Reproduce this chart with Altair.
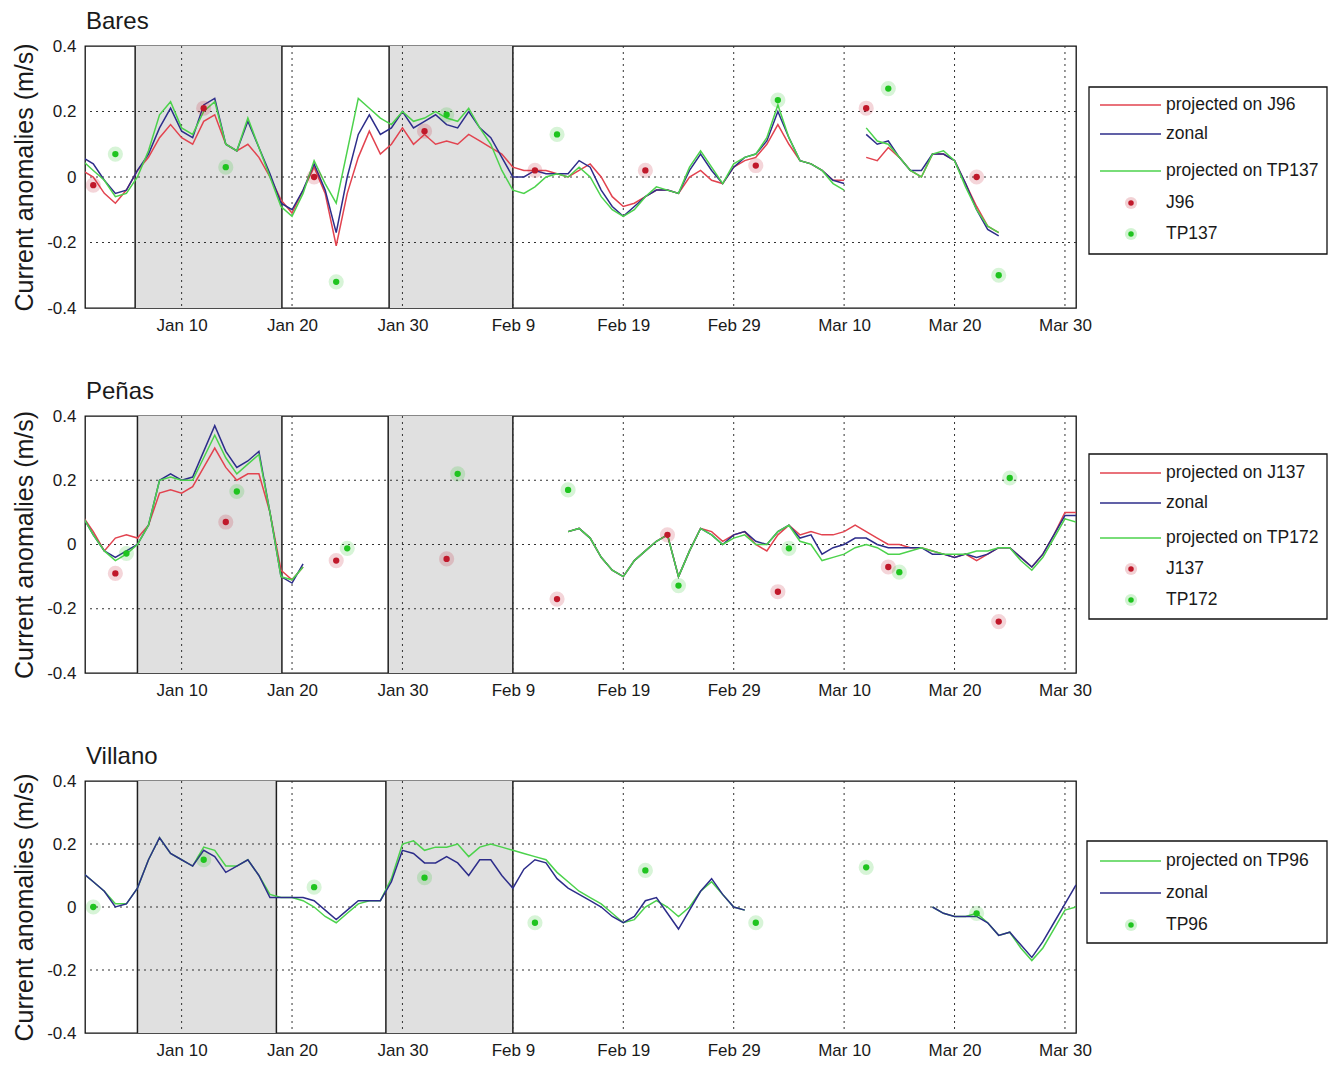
import altair as alt
import pandas as pd

FONT = "Liberation Sans"
TEXT = "#1a1a1a"
RED_LINE = "#e2434f"
BLUE_LINE = "#2d2d8a"
GREEN_LINE = "#4cd24c"
RED_PT = "#c0182a"
GREEN_PT = "#1fc41f"
GREY = "#e0e0e0"

# ---------------- axis ticks ----------------
X_TICKS = ["2008-01-10", "2008-01-20", "2008-01-30", "2008-02-09", "2008-02-19",
           "2008-02-29", "2008-03-10", "2008-03-20", "2008-03-30"]
Y_TICKS = [-0.4, -0.2, 0, 0.2, 0.4]
Y_GRID = [-0.2, 0, 0.2]

# ---------------- Bares ----------------
BARES_SHADE = ["2008-01-05T19:00", "2008-01-19T02:00", "2008-01-28T19:00", "2008-02-09T00:00"]
BARES_SEG1_START = "2008-01-01"
BARES_RED_1 = [0.02, 0.00, -0.05, -0.08, -0.04, 0.02, 0.06, 0.12, 0.16, 0.12, 0.10, 0.17, 0.19, 0.10, 0.08, 0.10,
               0.06, 0.00, -0.07, -0.11, -0.04, 0.03, -0.05, -0.21, -0.05, 0.06, 0.14, 0.07, 0.10, 0.15, 0.10,
               0.13, 0.10, 0.11, 0.10, 0.13, 0.11, 0.09, 0.07, 0.03, 0.02, 0.02, 0.02, 0.01, 0.00, 0.02, 0.04,
               0.00, -0.06, -0.09, -0.08, -0.06, -0.04, -0.04, -0.05, 0.00, 0.02, -0.01, -0.02, 0.03,
               0.05, 0.06, 0.10, 0.16, 0.10, 0.05, 0.04, 0.02, -0.01, -0.01]
BARES_BLUE_1 = [0.06, 0.04, -0.01, -0.05, -0.04, 0.02, 0.07, 0.15, 0.21, 0.14, 0.12, 0.22, 0.24, 0.10, 0.08, 0.17,
                0.09, 0.01, -0.08, -0.10, -0.04, 0.04, -0.04, -0.17, 0.00, 0.13, 0.19, 0.13, 0.15, 0.20, 0.15,
                0.17, 0.19, 0.16, 0.15, 0.20, 0.15, 0.12, 0.06, 0.00, 0.00, 0.02, 0.01, 0.01, 0.01, 0.05, 0.03,
                -0.04, -0.09, -0.12, -0.09, -0.06, -0.04, -0.04, -0.05, 0.02, 0.07, 0.02, -0.02, 0.03,
                0.06, 0.07, 0.11, 0.20, 0.12, 0.05, 0.04, 0.02, -0.01, -0.02]
BARES_GREEN_1 = [0.05, 0.02, -0.01, -0.06, -0.05, 0.00, 0.08, 0.19, 0.23, 0.15, 0.13, 0.20, 0.23, 0.10, 0.08, 0.18,
                 0.09, 0.00, -0.09, -0.12, -0.05, 0.05, -0.02, -0.08, 0.08, 0.24, 0.21, 0.18, 0.16, 0.20, 0.17,
                 0.18, 0.20, 0.18, 0.17, 0.21, 0.15, 0.10, 0.02, -0.04, -0.05, -0.03, 0.00, 0.01, 0.00, 0.03, 0.00,
                 -0.06, -0.10, -0.12, -0.10, -0.06, -0.03, -0.04, -0.05, 0.03, 0.08, 0.03, -0.02, 0.04,
                 0.06, 0.07, 0.12, 0.22, 0.12, 0.05, 0.04, 0.02, -0.02, -0.04]
BARES_SEG2_START = "2008-03-12"
BARES_RED_2 = [0.06, 0.05, 0.09, 0.06, 0.02, 0.00, 0.07, 0.07, 0.05, -0.02, -0.09, -0.15, -0.17]
BARES_BLUE_2 = [0.13, 0.10, 0.11, 0.06, 0.02, 0.02, 0.07, 0.07, 0.05, -0.02, -0.10, -0.16, -0.18]
BARES_GREEN_2 = [0.15, 0.11, 0.10, 0.06, 0.02, 0.00, 0.07, 0.08, 0.05, -0.03, -0.10, -0.15, -0.17]
BARES_J96_DATES = ["2008-01-02", "2008-01-12", "2008-01-22", "2008-02-01", "2008-02-11",
                   "2008-02-21", "2008-03-02", "2008-03-12", "2008-03-22"]
BARES_J96 = [-0.025, 0.21, 0.0, 0.14, 0.02, 0.02, 0.035, 0.21, 0.0]
BARES_TP137_DATES = ["2008-01-04", "2008-01-14", "2008-01-24", "2008-02-03", "2008-02-13",
                     "2008-03-04", "2008-03-14", "2008-03-24"]
BARES_TP137 = [0.07, 0.03, -0.32, 0.19, 0.13, 0.235, 0.27, -0.30]
BARES_LEGEND = ["projected on J96", "zonal", "projected on TP137", "J96", "TP137"]

# ---------------- Peñas ----------------
PENAS_SHADE = ["2008-01-06T00:00", "2008-01-19T02:00", "2008-01-28T17:00", "2008-02-09T00:00"]
PENAS_SEG1_START = "2008-01-01"
PENAS_RED_1 = [0.09, 0.04, -0.02, 0.02, 0.03, 0.02, 0.06, 0.16, 0.17, 0.16, 0.18, 0.24, 0.30, 0.24, 0.20, 0.22,
               0.22, 0.10, -0.08, -0.11, -0.07]
PENAS_BLUE_1 = [0.09, 0.03, -0.02, -0.04, -0.02, 0.00, 0.06, 0.20, 0.22, 0.20, 0.21, 0.29, 0.37, 0.29, 0.24, 0.26,
                0.29, 0.10, -0.10, -0.12, -0.06]
PENAS_GREEN_1 = [0.09, 0.03, -0.02, -0.05, -0.03, 0.00, 0.06, 0.20, 0.21, 0.20, 0.20, 0.27, 0.34, 0.27, 0.22, 0.25,
                 0.28, 0.10, -0.10, -0.11, -0.07]
PENAS_SEG2_START = "2008-02-14"
PENAS_RED_2 = [0.04, 0.05, 0.02, -0.04, -0.08, -0.10, -0.05, -0.02, 0.01, 0.03, -0.10, -0.02, 0.05, 0.04, 0.01, 0.03,
               0.04, 0.00, -0.02, 0.03, 0.06, 0.03, 0.04, 0.03, 0.03, 0.04, 0.06, 0.04, 0.02, 0.00, 0.00, -0.01,
               -0.01, -0.02, -0.03, -0.04, -0.03, -0.05, -0.03, -0.01, -0.01, -0.04, -0.07, -0.03, 0.03, 0.10, 0.10]
PENAS_BLUE_2 = [0.04, 0.05, 0.02, -0.04, -0.08, -0.10, -0.05, -0.02, 0.01, 0.03, -0.10, -0.02, 0.05, 0.03, 0.00, 0.03,
                0.04, 0.01, 0.00, 0.04, 0.06, 0.02, 0.03, -0.03, -0.01, 0.00, 0.02, 0.02, 0.00, -0.01, -0.01, -0.01,
                -0.01, -0.03, -0.03, -0.04, -0.03, -0.04, -0.03, -0.01, -0.01, -0.04, -0.07, -0.03, 0.03, 0.09, 0.09]
PENAS_GREEN_2 = [0.04, 0.05, 0.02, -0.04, -0.08, -0.10, -0.05, -0.02, 0.01, 0.03, -0.10, -0.02, 0.05, 0.03, 0.00, 0.02,
                 0.03, 0.00, 0.00, 0.04, 0.06, 0.01, 0.00, -0.05, -0.04, -0.03, -0.01, 0.00, -0.01, -0.03, -0.03, -0.02,
                 -0.01, -0.02, -0.03, -0.03, -0.03, -0.02, -0.02, -0.01, -0.01, -0.05, -0.08, -0.04, 0.02, 0.08, 0.07]
PENAS_J137_DATES = ["2008-01-04", "2008-01-14", "2008-01-24", "2008-02-03", "2008-02-13",
                    "2008-02-23", "2008-03-04", "2008-03-14", "2008-03-24"]
PENAS_J137 = [-0.09, 0.07, -0.05, -0.045, -0.17, 0.03, -0.147, -0.07, -0.24]
PENAS_TP172_DATES = ["2008-01-05", "2008-01-15", "2008-01-25", "2008-02-04", "2008-02-14",
                     "2008-02-24", "2008-03-05", "2008-03-15", "2008-03-25"]
PENAS_TP172 = [-0.028, 0.165, -0.012, 0.22, 0.17, -0.128, -0.012, -0.086, 0.207]
PENAS_LEGEND = ["projected on J137", "zonal", "projected on TP172", "J137", "TP172"]

# ---------------- Villano ----------------
VILLANO_SHADE = ["2008-01-06T00:00", "2008-01-18T14:00", "2008-01-28T12:00", "2008-02-09T00:00"]
VILLANO_SEG1_START = "2008-01-01"
VILLANO_BLUE_1 = [0.11, 0.08, 0.05, 0.00, 0.01, 0.06, 0.15, 0.22, 0.17, 0.15, 0.13, 0.18, 0.16, 0.11, 0.13, 0.15,
                  0.10, 0.03, 0.03, 0.03, 0.03, 0.02, -0.01, -0.04, -0.01, 0.02, 0.02, 0.02, 0.08, 0.18, 0.17,
                  0.14, 0.14, 0.16, 0.14, 0.10, 0.15, 0.15, 0.10, 0.06, 0.12, 0.15, 0.14, 0.09, 0.06, 0.04, 0.02,
                  0.00, -0.03, -0.05, -0.03, 0.02, 0.03, -0.02, -0.07, -0.01, 0.05, 0.09, 0.04, 0.00,
                  -0.01]
VILLANO_GREEN_1 = [0.11, 0.08, 0.05, 0.01, 0.01, 0.06, 0.15, 0.22, 0.17, 0.15, 0.13, 0.19, 0.18, 0.13, 0.13, 0.15,
                   0.10, 0.04, 0.03, 0.03, 0.02, 0.00, -0.03, -0.05, -0.02, 0.01, 0.02, 0.02, 0.09, 0.20, 0.21,
                   0.18, 0.19, 0.19, 0.20, 0.16, 0.19, 0.20, 0.19, 0.18, 0.17, 0.16, 0.15, 0.11, 0.08, 0.05, 0.03,
                   0.01, -0.02, -0.05, -0.04, 0.00, 0.02, 0.00, -0.03, 0.00, 0.05, 0.08, 0.04, 0.00,
                   -0.01]
VILLANO_SEG2_START = "2008-03-18"
VILLANO_BLUE_2 = [0.00, -0.02, -0.03, -0.03, -0.03, -0.05, -0.09, -0.08, -0.12, -0.16, -0.11, -0.05, 0.01, 0.07]
VILLANO_GREEN_2 = [0.00, -0.02, -0.03, -0.03, -0.02, -0.05, -0.09, -0.08, -0.13, -0.17, -0.13, -0.07, -0.01, 0.00]
VILLANO_TP96_DATES = ["2008-01-02", "2008-01-12", "2008-01-22", "2008-02-01", "2008-02-11",
                      "2008-02-21", "2008-03-02", "2008-03-12", "2008-03-22"]
VILLANO_TP96 = [0.0, 0.15, 0.063, 0.093, -0.05, 0.116, -0.05, 0.126, -0.02]
VILLANO_LEGEND = ["projected on TP96", "zonal", "TP96"]


# ---------------- helpers ----------------
def iso(d):
    if "T" not in d:
        d = d + "T00:00"
    return d + ":00Z"


def dt(s):
    y, m, d = [int(p) for p in s.split("-")]
    return alt.DateTime(year=y, month=m, date=d, utc=True)


def line_frame(segments):
    rows = []
    for k, (start, vals) in enumerate(segments):
        for d, v in zip(pd.date_range(start, periods=len(vals), freq="D"), vals):
            rows.append({"date": d.strftime("%Y-%m-%dT%H:%M:%SZ"), "value": v, "seg": k})
    return pd.DataFrame(rows)


def point_frame(dates, vals):
    return pd.DataFrame({"date": [iso(d) for d in dates], "value": vals})


X_SCALE = alt.Scale(type="utc", domain=[alt.DateTime(year=2008, month=1, date=1, hours=6, utc=True),
                                        alt.DateTime(year=2008, month=3, date=31, utc=True)])
X_AXIS = alt.Axis(values=[dt(s) for s in X_TICKS], labelExpr="utcFormat(datum.value, '%b %-d')",
                  grid=False, ticks=False, domain=False, labelFlush=False, labelOverlap=False,
                  labelFontSize=17, labelFont=FONT, labelColor=TEXT, labelPadding=9, title=None)
Y_SCALE = alt.Scale(domain=[-0.4, 0.4], nice=False, zero=False)
Y_AXIS = alt.Axis(values=Y_TICKS, labelExpr="datum.value == 0 ? '0' : toString(datum.value)",
                  grid=False, ticks=False, domain=False, labelFontSize=17, labelFont=FONT, labelColor=TEXT,
                  labelPadding=9, title="Current anomalies (m/s)", titleFontSize=25, titleFont=FONT,
                  titleFontWeight="normal", titleColor=TEXT, titlePadding=9)


def xenc(field):
    return alt.X(field, type="temporal", scale=X_SCALE, axis=X_AXIS)


def yenc(field):
    return alt.Y(field, type="quantitative", scale=Y_SCALE, axis=Y_AXIS)


ONE = pd.DataFrame({"k": [0]})
LEG_LINE_X0, LEG_LINE_X1, LEG_PT_X, LEG_TEXT_X = 1015, 1076, 1046, 1081


def points_layers(df, color):
    return [
        alt.Chart(df).mark_circle(color=color, size=230, opacity=0.18).encode(x=xenc("date"), y=yenc("value")),
        alt.Chart(df).mark_circle(color=color, size=40, opacity=1).encode(x=xenc("date"), y=yenc("value")),
    ]


def legend_layers(entries, box, ys):
    layers = [alt.Chart(ONE).mark_rect(fill="white", stroke="#111", strokeWidth=1.3).encode(
        x=alt.value(box[0]), x2=alt.value(box[1]), y=alt.value(box[2]), y2=alt.value(box[3]))]
    for (label, kind, color), y in zip(entries, ys):
        if kind == "line":
            layers.append(alt.Chart(ONE).mark_rule(color=color, strokeWidth=1.5).encode(
                x=alt.value(LEG_LINE_X0), x2=alt.value(LEG_LINE_X1), y=alt.value(y)))
        else:
            layers.append(alt.Chart(ONE).mark_circle(color=color, size=150, opacity=0.2).encode(
                x=alt.value(LEG_PT_X), y=alt.value(y)))
            layers.append(alt.Chart(ONE).mark_circle(color=color, size=30, opacity=1).encode(
                x=alt.value(LEG_PT_X), y=alt.value(y)))
        layers.append(alt.Chart(ONE).mark_text(text=label, align="left", baseline="middle", fontSize=17.5,
                                               font=FONT, color=TEXT).encode(
            x=alt.value(LEG_TEXT_X), y=alt.value(y)))
    return layers


def panel(title, height, shade, line_specs, point_specs, legend, legend_box, legend_ys):
    shade_df = pd.DataFrame({"start": [iso(a) for a in shade[0::2]], "end": [iso(b) for b in shade[1::2]]})
    edge_df = pd.DataFrame({"edge": [iso(e) for e in shade]})
    gridx = pd.DataFrame({"t": [iso(t) for t in X_TICKS]})
    gridy = pd.DataFrame({"v": Y_GRID})
    layers = [
        alt.Chart(shade_df).mark_rect(color=GREY).encode(x=xenc("start"), x2="end",
                                                        y=alt.value(0), y2=alt.value(height)),
        alt.Chart(edge_df).mark_rule(color="#1e1e1e", strokeWidth=1.5).encode(x=xenc("edge")),
        alt.Chart(gridx).mark_rule(color="#333333", strokeWidth=1, strokeDash=[2, 4]).encode(x=xenc("t")),
        alt.Chart(gridy).mark_rule(color="#333333", strokeWidth=1, strokeDash=[2, 4]).encode(y=yenc("v")),
    ]
    for df, color in line_specs:
        layers.append(alt.Chart(df).mark_line(color=color, strokeWidth=1.5, clip=True).encode(
            x=xenc("date"), y=yenc("value"), detail="seg:N"))
    for df, color in point_specs:
        layers.extend(points_layers(df, color))
    layers.extend(legend_layers(legend, legend_box, legend_ys))
    return alt.layer(*layers).properties(
        width=991, height=height,
        title=alt.TitleParams(title, anchor="start", frame="group", fontSize=24, font=FONT,
                              fontWeight="normal", color=TEXT, offset=-16, baseline="alphabetic", dx=1))


bares = panel(
    "Bares", 262, BARES_SHADE,
    [(line_frame([(BARES_SEG1_START, BARES_RED_1), (BARES_SEG2_START, BARES_RED_2)]), RED_LINE),
     (line_frame([(BARES_SEG1_START, BARES_BLUE_1), (BARES_SEG2_START, BARES_BLUE_2)]), BLUE_LINE),
     (line_frame([(BARES_SEG1_START, BARES_GREEN_1), (BARES_SEG2_START, BARES_GREEN_2)]), GREEN_LINE)],
    [(point_frame(BARES_J96_DATES, BARES_J96), RED_PT),
     (point_frame(BARES_TP137_DATES, BARES_TP137), GREEN_PT)],
    list(zip(BARES_LEGEND, ["line", "line", "line", "point", "point"],
             [RED_LINE, BLUE_LINE, GREEN_LINE, RED_PT, GREEN_PT])),
    (1004, 1242, 41, 208), [59, 88, 125, 157, 188])

penas = panel(
    "Peñas", 257, PENAS_SHADE,
    [(line_frame([(PENAS_SEG1_START, PENAS_RED_1), (PENAS_SEG2_START, PENAS_RED_2)]), RED_LINE),
     (line_frame([(PENAS_SEG1_START, PENAS_BLUE_1), (PENAS_SEG2_START, PENAS_BLUE_2)]), BLUE_LINE),
     (line_frame([(PENAS_SEG1_START, PENAS_GREEN_1), (PENAS_SEG2_START, PENAS_GREEN_2)]), GREEN_LINE)],
    [(point_frame(PENAS_J137_DATES, PENAS_J137), RED_PT),
     (point_frame(PENAS_TP172_DATES, PENAS_TP172), GREEN_PT)],
    list(zip(PENAS_LEGEND, ["line", "line", "line", "point", "point"],
             [RED_LINE, BLUE_LINE, GREEN_LINE, RED_PT, GREEN_PT])),
    (1004, 1242, 38, 203), [57, 87, 122, 153, 184])

villano = panel(
    "Villano", 252, VILLANO_SHADE,
    [(line_frame([(VILLANO_SEG1_START, VILLANO_GREEN_1), (VILLANO_SEG2_START, VILLANO_GREEN_2)]), GREEN_LINE),
     (line_frame([(VILLANO_SEG1_START, VILLANO_BLUE_1), (VILLANO_SEG2_START, VILLANO_BLUE_2)]), BLUE_LINE)],
    [(point_frame(VILLANO_TP96_DATES, VILLANO_TP96), GREEN_PT)],
    list(zip(VILLANO_LEGEND, ["line", "line", "point"], [GREEN_LINE, BLUE_LINE, GREEN_PT])),
    (1002, 1242, 60, 162), [80, 112, 144])

chart = alt.vconcat(bares, penas, villano, spacing=108, bounds="flush").resolve_scale(
    x="independent", y="independent"
).properties(
    padding={"left": 4, "top": 1, "right": 0, "bottom": 0}
).configure(font=FONT).configure_view(stroke="#111111", strokeWidth=1.3)

chart.save("out.html", embed_options={"renderer": "svg", "actions": False})
